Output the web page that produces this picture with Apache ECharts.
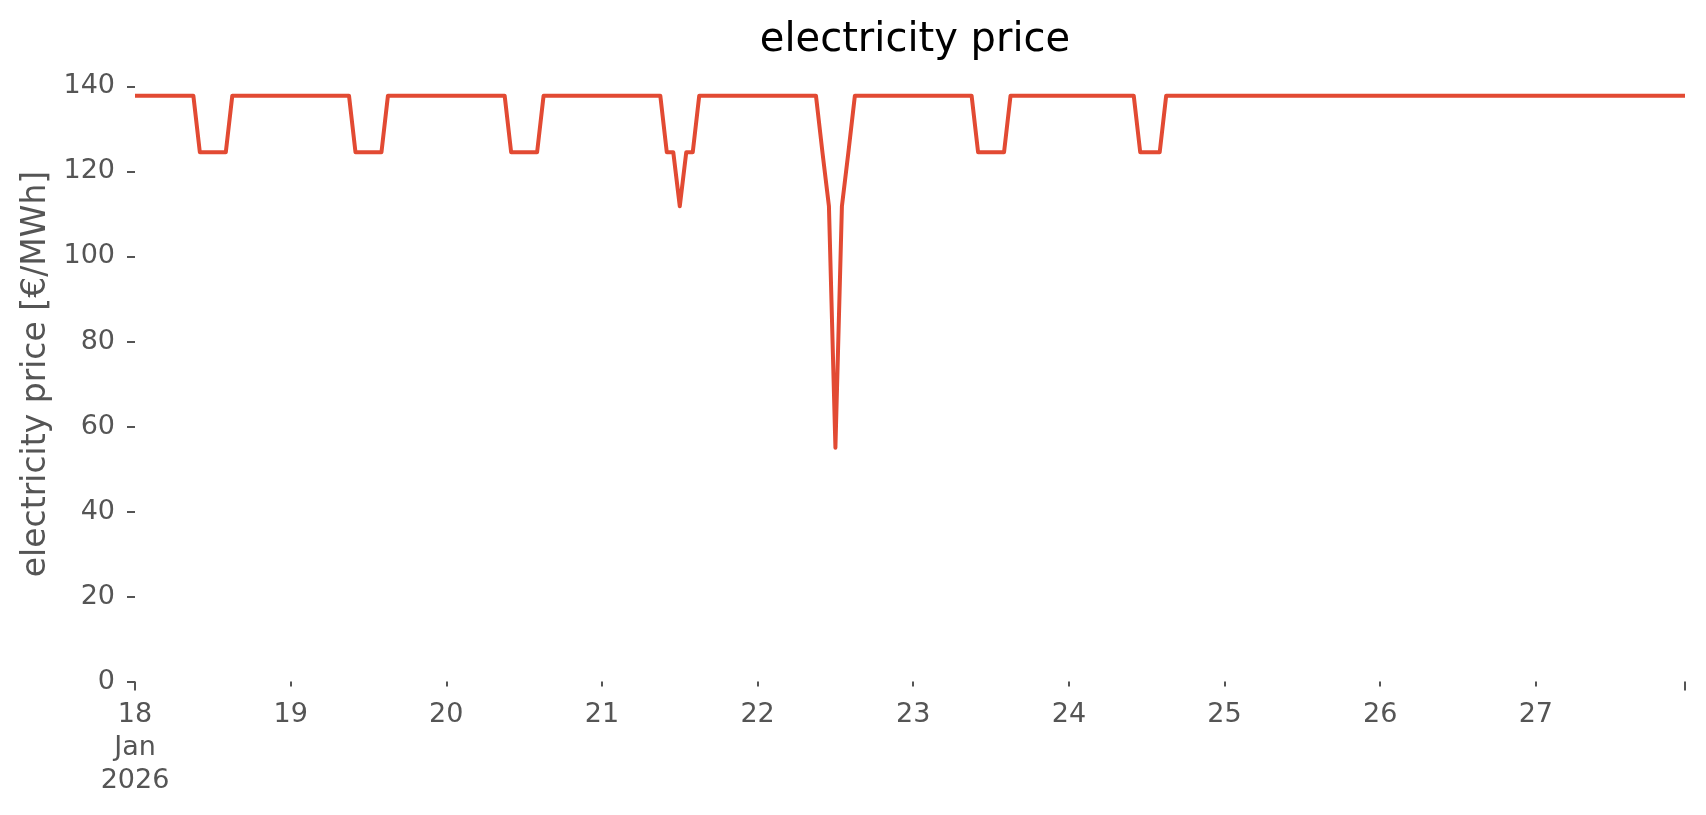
<!DOCTYPE html>
<html>
<head>
<meta charset="utf-8">
<script src="https://cdn.jsdelivr.net/npm/echarts@6/dist/echarts.min.js"></script>
<style>
html,body{margin:0;padding:0;background:#fff;}
#c{width:1706px;height:815px;}
</style>
</head>
<body>
<div id="c"></div>
<script>
// Hourly electricity price [€/MWh], starting 2026-01-18 00:00
const startLabel = '2026-01-18 00:00';
const day18 = [137.8,137.8,137.8,137.8,137.8,137.8,137.8,137.8,137.8,137.8,124.5,124.5,124.5,124.5,124.5,137.8,137.8,137.8,137.8,137.8,137.8,137.8,137.8,137.8];
const day19 = [137.8,137.8,137.8,137.8,137.8,137.8,137.8,137.8,137.8,137.8,124.5,124.5,124.5,124.5,124.5,137.8,137.8,137.8,137.8,137.8,137.8,137.8,137.8,137.8];
const day20 = [137.8,137.8,137.8,137.8,137.8,137.8,137.8,137.8,137.8,137.8,124.5,124.5,124.5,124.5,124.5,137.8,137.8,137.8,137.8,137.8,137.8,137.8,137.8,137.8];
const day21 = [137.8,137.8,137.8,137.8,137.8,137.8,137.8,137.8,137.8,137.8,124.5,124.5,111.8,124.5,124.5,137.8,137.8,137.8,137.8,137.8,137.8,137.8,137.8,137.8];
const day22 = [137.8,137.8,137.8,137.8,137.8,137.8,137.8,137.8,137.8,137.8,124.5,111.8,55.0,111.8,124.5,137.8,137.8,137.8,137.8,137.8,137.8,137.8,137.8,137.8];
const day23 = [137.8,137.8,137.8,137.8,137.8,137.8,137.8,137.8,137.8,137.8,124.5,124.5,124.5,124.5,124.5,137.8,137.8,137.8,137.8,137.8,137.8,137.8,137.8,137.8];
const day24 = [137.8,137.8,137.8,137.8,137.8,137.8,137.8,137.8,137.8,137.8,137.8,124.5,124.5,124.5,124.5,137.8,137.8,137.8,137.8,137.8,137.8,137.8,137.8,137.8];
const day25 = [137.8,137.8,137.8,137.8,137.8,137.8,137.8,137.8,137.8,137.8,137.8,137.8,137.8,137.8,137.8,137.8,137.8,137.8,137.8,137.8,137.8,137.8,137.8,137.8];
const day26 = [137.8,137.8,137.8,137.8,137.8,137.8,137.8,137.8,137.8,137.8,137.8,137.8,137.8,137.8,137.8,137.8,137.8,137.8,137.8,137.8,137.8,137.8,137.8,137.8];
const day27 = [137.8,137.8,137.8,137.8,137.8,137.8,137.8,137.8,137.8,137.8,137.8,137.8,137.8,137.8,137.8,137.8,137.8,137.8,137.8,137.8,137.8,137.8,137.8,137.8];

const xTickHours = [0,24,48,72,96,120,144,168,192,216];
const xTickLabels = ['18\nJan\n2026','19','20','21','22','23','24','25','26','27'];
const yTicks = [0,20,40,60,80,100,120,140];

const prices = [].concat(day18,day19,day20,day21,day22,day23,day24,day25,day26,day27);
const seriesData = prices.map((v,i)=>[i,v]);
const lastHour = prices.length - 1;

const FONT = 'DejaVu Sans';
const chart = echarts.init(document.getElementById('c'), null, {renderer:'canvas'});
chart.setOption({
  animation:false,
  backgroundColor:'#ffffff',
  title:{
    text:'electricity price',
    left:910, top:16, textAlign:'center',
    textStyle:{fontFamily:FONT,fontSize:40,fontWeight:'normal',color:'#000000'}
  },
  grid:{left:135,right:21,top:66.5,bottom:133.5,containLabel:false,outerBoundsMode:'none'},
  xAxis:[{
    type:'value', min:0, max:lastHour,
    axisLine:{show:false},
    splitLine:{show:false},
    axisTick:{show:true,length:5,customValues:xTickHours.slice(1),lineStyle:{color:'#555555',width:2}},
    axisLabel:{
      customValues:xTickHours,
      margin:17,
      fontFamily:FONT,fontSize:27,lineHeight:33,color:'#555555',align:'center',verticalAlign:'top',
      formatter:function(v){const k=xTickHours.indexOf(Math.round(v));return k>=0?xTickLabels[k]:'';}
    }
  },{
    type:'value', min:0, max:lastHour, gridIndex:0, position:'bottom',
    axisLine:{show:false}, splitLine:{show:false},
    axisTick:{show:true,length:9,customValues:[0,lastHour],lineStyle:{color:'#555555',width:2}},
    axisLabel:{show:false}
  }],
  yAxis:{
    type:'value', min:0, max:144.7,
    name:'electricity price [€/MWh]',
    nameLocation:'middle', nameGap:81,
    nameTextStyle:{fontFamily:FONT,fontSize:33,color:'#555555'},
    axisLine:{show:false},
    splitLine:{show:false},
    axisTick:{show:true,length:8,customValues:yTicks,lineStyle:{color:'#555555',width:2}},
    axisLabel:{customValues:yTicks,margin:20,fontFamily:FONT,fontSize:27,color:'#555555'}
  },
  series:[{
    type:'line',
    xAxisIndex:0,
    data:seriesData,
    showSymbol:false,
    symbol:'none',
    lineStyle:{color:'#E24A33',width:4,join:'round',cap:'butt'},
    emphasis:{disabled:true}
  }]
});
</script>
</body>
</html>
